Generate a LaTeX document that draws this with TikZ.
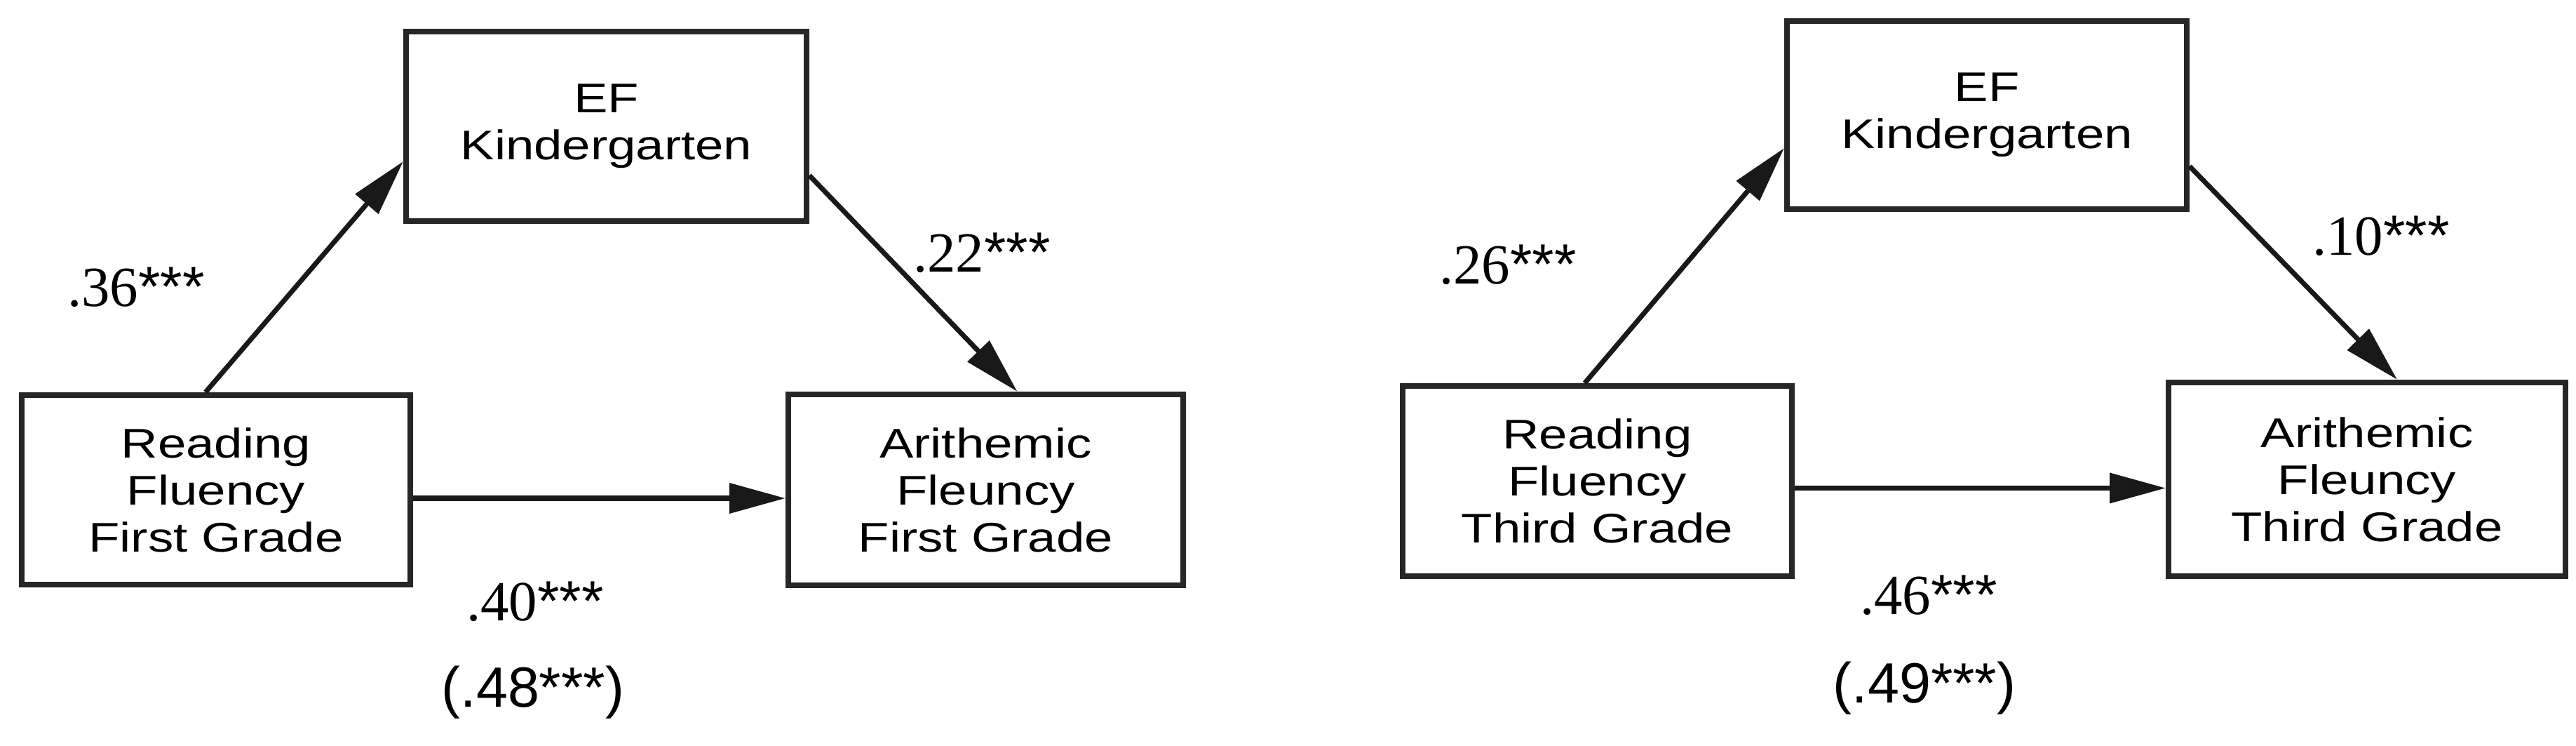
\documentclass[tikz,border=0pt]{standalone}
\usepackage{fontspec}
\setmainfont{Liberation Serif}
\newfontfamily\boxfont[FakeStretch=1.23]{Liberation Sans}
\newfontfamily\sansnum{Liberation Sans}
\usetikzlibrary{arrows.meta, positioning}

% path coefficient and total effect labels
\newcommand{\pathval}[1]{{\fontsize{23pt}{27pt}\selectfont #1{\sansnum ***}}}
\newcommand{\totalval}[1]{{\sansnum\fontsize{23pt}{27pt}\selectfont (#1***)}}

\begin{document}
\begin{tikzpicture}[
    box/.style={rectangle, draw=black!85, line width=2.3pt, align=center, inner sep=0pt,
        font=\boxfont\fontsize{16.8pt}{19.07pt}\selectfont},
    coef/.style={anchor=base, inner sep=0pt},
    arrow/.style={-{Triangle[length=0.8cm, width=0.42cm]}, line width=2pt, draw=black!90}
]
\useasboundingbox (0,0) rectangle (36.73,10.62);

% First grade model
\node[box, minimum width=5.71cm, minimum height=2.70cm] (efA) at (8.645,8.82) {EF\\Kindergarten};
\node[box, minimum width=5.54cm, minimum height=2.70cm] (readA) at (3.08,3.64) {Reading\\Fluency\\First Grade};
\node[box, minimum width=5.63cm, minimum height=2.72cm] (arithA) at (14.055,3.64) {Arithemic\\Fleuncy\\First Grade};

\draw[arrow] ([xshift=-0.15cm]readA.north) -- ([yshift=-0.5cm]efA.west);
\draw[arrow] ([yshift=-0.7cm]efA.east) -- ([xshift=0.45cm]arithA.north);
\draw[arrow] ([yshift=-0.12cm]readA.east) -- ([yshift=-0.12cm]arithA.west);

\node[coef] (aA) at (1.94,6.25) {\pathval{.36}};
\node[coef] (bA) at (14.0,6.74) {\pathval{.22}};
\node[coef] (cA) at (7.63,1.78) {\pathval{.40}};
\node[coef] (tA) at (7.60,0.55) {\totalval{.48}};

% Third grade model
\node[box, minimum width=5.70cm, minimum height=2.68cm] (efB) at (28.33,8.98) {EF\\Kindergarten};
\node[box, minimum width=5.55cm, minimum height=2.71cm] (readB) at (22.775,3.765) {Reading\\Fluency\\Third Grade};
\node[box, minimum width=5.66cm, minimum height=2.76cm] (arithB) at (33.75,3.79) {Arithemic\\Fleuncy\\Third Grade};

\draw[arrow] ([xshift=-0.18cm]readB.north) -- ([yshift=-0.47cm]efB.west);
\draw[arrow] ([yshift=-0.73cm]efB.east) -- ([xshift=0.43cm]arithB.north);
\draw[arrow] ([yshift=-0.1cm]readB.east) -- ([yshift=-0.1cm]readB.east -| arithB.west);

\node[coef] (aB) at (21.50,6.57) {\pathval{.26}};
\node[coef] (bB) at (33.95,6.98) {\pathval{.10}};
\node[coef] (cB) at (27.50,1.87) {\pathval{.46}};
\node[coef] (tB) at (27.44,0.61) {\totalval{.49}};

\end{tikzpicture}
\end{document}
